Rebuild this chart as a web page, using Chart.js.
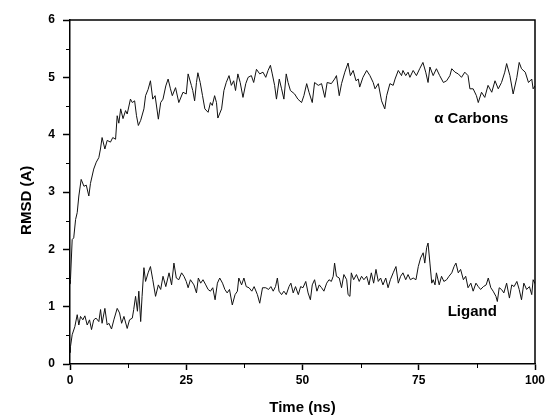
<!DOCTYPE html>
<html>
<head>
<meta charset="utf-8">
<script src="https://cdn.jsdelivr.net/npm/chart.js@4"></script>
<style>
  html, body { margin: 0; padding: 0; background: #fff; }
  #wrap { width: 546px; height: 418px; }
</style>
</head>
<body>
<div id="wrap"><canvas id="rmsdChart"></canvas></div>
<script>
// RMSD of alpha carbons vs time
const caTime = [0, 0.1, 0.47, 0.8, 1.2, 1.55, 1.9, 2.4, 3.0, 3.5, 4.05, 4.4, 5.1, 5.65, 6.2, 6.55, 6.9, 7.5, 8.0, 8.7, 9.2, 9.8,
  10.15, 10.5, 10.9, 11.4, 11.95, 12.3, 13.0, 13.4, 13.9, 14.3, 14.7, 15.2, 15.9, 16.25, 16.8, 17.3, 17.8, 18.3, 19.0, 19.5,
  20.0, 20.6, 21.1, 21.6, 22.0, 22.7, 23.4, 24.3, 25.0, 25.4, 26.1, 26.4, 26.8, 27.2, 27.5, 28.0, 28.5, 29.0, 29.7,
  30.2, 30.6, 31.1, 31.5, 31.8, 32.6, 33.1, 33.6, 34.2, 34.7, 35.2, 35.6, 36.1, 36.6, 37.2, 37.8, 38.3, 39.0, 39.5,
  40.1, 40.8, 41.5, 42.1, 42.6, 43.1, 43.5, 44.0, 44.4, 45.0, 45.5, 46.0, 46.5, 46.9, 47.4, 48.3, 49.0, 49.8,
  50.3, 50.9, 51.4, 52.1, 52.6, 53.4, 54.1, 54.8, 55.3, 56.2, 56.9, 57.3, 57.9, 58.4, 59.1, 59.8,
  60.3, 60.9, 61.5, 62.0, 62.3, 63.0, 63.8, 64.5, 65.2, 65.6, 66.3, 67.0, 67.7, 68.1, 68.8, 69.5, 69.9,
  70.6, 71.3, 71.6, 72.2, 72.7, 73.1, 73.8, 74.5, 75.2, 75.9, 76.5, 77.0, 77.4, 78.1, 78.8, 79.5,
  80.3, 81.0, 81.7, 82.1, 82.8, 83.5, 84.2, 84.9, 85.6, 86.0, 86.7, 87.4, 87.8, 88.5, 89.2, 89.9,
  90.7, 91.4, 92.1, 92.8, 93.5, 93.9, 94.6, 95.3, 96.1, 96.6, 97.1, 97.9, 98.6, 99.3, 99.6, 100];
const caRmsd = [1.4, 1.47, 2.17, 2.2, 2.52, 2.64, 2.93, 3.22, 3.1, 3.12, 2.93, 3.15, 3.4, 3.52, 3.6, 3.75, 3.95, 3.75, 3.9, 3.87, 3.95, 3.92,
  4.33, 4.2, 4.45, 4.28, 4.42, 4.36, 4.62, 4.56, 4.59, 4.33, 4.16, 4.25, 4.45, 4.68, 4.79, 4.94, 4.62, 4.68, 4.27, 4.56,
  4.62, 4.85, 4.97, 4.8, 4.68, 4.82, 4.56, 4.74, 4.71, 5.06, 4.86, 4.77, 4.59, 4.91, 5.08, 4.91, 4.68, 4.45, 4.39,
  4.56, 4.51, 4.68, 4.56, 4.29, 4.45, 4.77, 4.91, 5.03, 4.86, 4.94, 4.77, 5.06, 4.91, 4.65, 4.89, 5.0, 5.03, 4.91,
  5.14, 5.06, 5.09, 5.0, 5.12, 5.21, 5.06, 4.86, 4.62, 4.97, 4.8, 4.62, 5.06, 4.91, 4.77, 4.71, 4.62, 4.56,
  4.68, 4.89, 4.74, 4.56, 4.91, 4.86, 4.89, 4.65, 4.91, 4.89, 4.97, 5.03, 4.68, 4.89, 5.09, 5.25,
  5.03, 5.12, 4.94, 4.97, 4.83, 5.0, 5.12, 5.03, 4.91, 4.8, 4.89, 4.59, 4.45, 4.68, 4.89, 4.86, 4.97,
  5.12, 5.03, 5.12, 5.03, 5.09, 5.0, 5.12, 5.03, 5.15, 5.26, 5.09, 4.91, 5.18, 5.03, 5.15, 5.03,
  4.91, 4.94, 5.03, 5.15, 5.09, 5.06, 5.0, 5.09, 5.03, 4.8, 4.8, 4.68, 4.56, 4.74, 4.65, 4.86,
  4.74, 4.94, 4.8, 4.91, 5.09, 5.24, 5.03, 4.71, 5.0, 5.26, 5.15, 5.09, 4.91, 4.97, 4.8, 4.85];

// RMSD of the ligand vs time
const ligTime = [0, 0.1, 0.47, 1.04, 1.55, 1.9, 2.26, 2.76, 3.2, 3.7, 4.2, 4.63, 5.1, 5.6, 6.2, 6.57, 6.9, 7.5, 8.0, 8.36, 8.93, 9.43,
  10.15, 10.66, 11.1, 11.6, 12.3, 12.8, 13.4, 13.7, 14.1, 14.5, 14.8, 15.2, 15.5, 15.9, 16.25, 16.8, 17.3, 17.8, 18.4, 19.0, 19.5,
  20.0, 20.6, 21.3, 21.85, 22.35, 22.86, 23.4, 24.0, 24.5, 25.0, 25.4, 25.9, 26.65, 27.2, 27.6, 28.1, 28.6, 29.2, 29.7,
  30.2, 30.7, 31.2, 31.7, 32.2, 32.8, 33.3, 33.8, 34.3, 34.9, 35.5, 36.0, 36.3, 36.9, 37.4, 37.9, 38.5, 39.1, 39.6,
  40.3, 40.8, 41.4, 42.1, 42.7, 43.2, 43.7, 44.2, 44.6, 44.95, 45.5, 46.0, 46.5, 47.1, 47.5, 48.0, 48.5, 49.1, 49.6,
  50.1, 50.7, 51.2, 51.7, 52.1, 52.6, 53.1, 53.6, 54.1, 54.6, 55.2, 55.7, 56.2, 56.6, 56.9, 57.3, 57.9, 58.4, 58.9, 59.5, 59.8,
  60.2, 60.5, 61.0, 61.6, 62.2, 62.7, 63.2, 63.8, 64.3, 64.8, 65.3, 65.8, 66.3, 66.8, 67.3, 67.9, 68.4, 68.9, 69.5,
  70.1, 70.6, 71.1, 71.6, 72.2, 72.7, 73.2, 73.8, 74.4, 74.9, 75.4, 75.95, 76.3, 76.7, 77.0, 77.4, 77.8, 78.1, 78.5, 78.8, 79.4, 79.9,
  80.4, 81.0, 81.5, 82.1, 82.6, 83.0, 83.5, 84.0, 84.6, 85.1, 85.6, 86.2, 86.7, 87.3, 87.8, 88.3, 88.9, 89.5, 89.95,
  90.5, 91.0, 91.6, 91.9, 92.3, 92.8, 93.3, 93.9, 94.5, 95.0, 95.5, 96.1, 96.6, 97.1, 97.6, 98.2, 98.8, 99.3, 99.6, 100];
const ligRmsd = [0.2, 0.3, 0.51, 0.65, 0.86, 0.68, 0.83, 0.77, 0.84, 0.68, 0.77, 0.6, 0.77, 0.8, 0.74, 0.95, 0.71, 0.97, 0.68, 0.71, 0.61, 0.77,
  0.97, 0.89, 0.71, 0.83, 0.62, 0.77, 0.8, 0.95, 1.18, 0.92, 1.27, 0.74, 1.18, 1.68, 1.44, 1.59, 1.7, 1.47, 1.18, 1.38, 1.3,
  1.53, 1.35, 1.59, 1.38, 1.76, 1.5, 1.47, 1.59, 1.53, 1.44, 1.33, 1.47, 1.38, 1.24, 1.5, 1.41, 1.47, 1.38, 1.3,
  1.27, 1.33, 1.12, 1.41, 1.5, 1.41, 1.3, 1.24, 1.3, 1.03, 1.21, 1.27, 1.5, 1.38, 1.5, 1.35, 1.33, 1.27, 1.35,
  1.21, 1.06, 1.33, 1.33, 1.3, 1.35, 1.27, 1.35, 1.5, 1.27, 1.21, 1.27, 1.21, 1.35, 1.41, 1.24, 1.35, 1.21, 1.35,
  1.33, 1.44, 1.24, 1.12, 1.38, 1.47, 1.27, 1.38, 1.33, 1.27, 1.41, 1.47, 1.44, 1.53, 1.76, 1.53, 1.5, 1.33, 1.56, 1.47, 1.21,
  1.18, 1.59, 1.47, 1.56, 1.44, 1.53, 1.47, 1.53, 1.38, 1.59, 1.41, 1.65, 1.44, 1.5, 1.38, 1.5, 1.33, 1.47, 1.59,
  1.7, 1.41, 1.53, 1.59, 1.47, 1.56, 1.47, 1.5, 1.47, 1.7, 1.85, 1.94, 1.76, 2.03, 2.11, 1.76, 1.41, 1.47, 1.38, 1.59, 1.38, 1.53,
  1.44, 1.47, 1.53, 1.59, 1.7, 1.76, 1.59, 1.65, 1.47, 1.53, 1.33, 1.41, 1.27, 1.41, 1.35, 1.3, 1.35, 1.38, 1.5,
  1.33, 1.27, 1.18, 1.09, 1.33, 1.3, 1.24, 1.41, 1.15, 1.38, 1.35, 1.44, 1.3, 1.12, 1.41, 1.3, 1.35, 1.21, 1.47, 1.4];

const xTicks = [0, 25, 50, 75, 100];
const yTicks = [0, 1, 2, 3, 4, 5, 6];
const xMinor = [12.5, 37.5, 62.5, 87.5];
const yMinor = [0.5, 1.5, 2.5, 3.5, 4.5, 5.5];

// label text, position in data units
const notes = [
  { text: '\u03b1 Carbons', x: 86.3, y: 4.27 },
  { text: 'Ligand', x: 86.5, y: 0.91 }
];

const FONT = "'Liberation Sans', Arial, sans-serif";

function toPoints(xs, ys) {
    return xs.map((x, i) => ({ x: x, y: ys[i] }));
}

// top/right frame, minor ticks and text labels
const extras = {
    id: 'extras',
    afterDraw(chart) {
        const ctx = chart.ctx;
        const a = chart.chartArea;
        const xs = chart.scales.x;
        const ys = chart.scales.y;
        ctx.save();
        ctx.strokeStyle = '#000';
        ctx.lineWidth = 1.5;
        ctx.beginPath();
        ctx.moveTo(a.left, a.top);
        ctx.lineTo(a.right, a.top);
        ctx.lineTo(a.right, a.bottom);
        ctx.stroke();

        ctx.lineWidth = 1;
        ctx.beginPath();
        xMinor.forEach(v => {
            const px = Math.round(xs.getPixelForValue(v)) + 0.5;
            ctx.moveTo(px, a.bottom);
            ctx.lineTo(px, a.bottom + 4);
        });
        yMinor.forEach(v => {
            const py = Math.round(ys.getPixelForValue(v)) + 0.5;
            ctx.moveTo(a.left, py);
            ctx.lineTo(a.left - 4, py);
        });
        ctx.stroke();

        ctx.fillStyle = '#000';
        ctx.textAlign = 'center';
        ctx.textBaseline = 'middle';
        ctx.font = 'bold 15px ' + FONT;
        notes.forEach(n => {
            ctx.fillText(n.text, xs.getPixelForValue(n.x), ys.getPixelForValue(n.y));
        });
        ctx.restore();
    }
};

const ctx = document.getElementById('rmsdChart').getContext('2d');
const rmsdChart = new Chart(ctx, {
    type: 'line',
    data: {
        datasets: [
            {
                label: 'alpha Carbons',
                data: toPoints(caTime, caRmsd),
                borderColor: '#111',
                borderWidth: 1,
                pointRadius: 0,
                tension: 0
            },
            {
                label: 'Ligand',
                data: toPoints(ligTime, ligRmsd),
                borderColor: '#111',
                borderWidth: 1,
                pointRadius: 0,
                tension: 0
            }
        ]
    },
    options: {
        responsive: true,
        maintainAspectRatio: false,
        animation: false,
        layout: { padding: { top: 20, right: 0, left: 0, bottom: 0 } },
        plugins: {
            legend: { display: false },
            tooltip: { enabled: false }
        },
        scales: {
            x: {
                type: 'linear',
                min: 0,
                max: 100,
                afterFit: s => { s.height = 54; s.paddingRight = 11; },
                afterBuildTicks: s => { s.ticks = xTicks.map(v => ({ value: v })); },
                ticks: {
                    padding: 3,
                    color: '#000',
                    font: { family: FONT, size: 12, weight: 'bold' }
                },
                grid: { drawOnChartArea: false, drawTicks: true, tickLength: 6, tickColor: '#000', tickWidth: 1.5 },
                border: { display: true, color: '#000', width: 1.5 },
                title: {
                    display: true,
                    text: 'Time (ns)',
                    color: '#000',
                    font: { family: FONT, size: 15, weight: 'bold' },
                    padding: { top: 0, bottom: 1 }
                }
            },
            y: {
                min: 0,
                max: 6,
                afterFit: s => { s.width = 70; },
                afterBuildTicks: s => { s.ticks = yTicks.map(v => ({ value: v })); },
                ticks: {
                    padding: 8,
                    color: '#000',
                    font: { family: FONT, size: 12, weight: 'bold' }
                },
                grid: { drawOnChartArea: false, drawTicks: true, tickLength: 7, tickColor: '#000', tickWidth: 1.5 },
                border: { display: true, color: '#000', width: 1.5 },
                title: {
                    display: true,
                    text: 'RMSD (A)    ',
                    color: '#000',
                    font: { family: FONT, size: 15, weight: 'bold' },
                    padding: { top: 18, bottom: 0 }
                }
            }
        }
    },
    plugins: [extras]
});
</script>
</body>
</html>
